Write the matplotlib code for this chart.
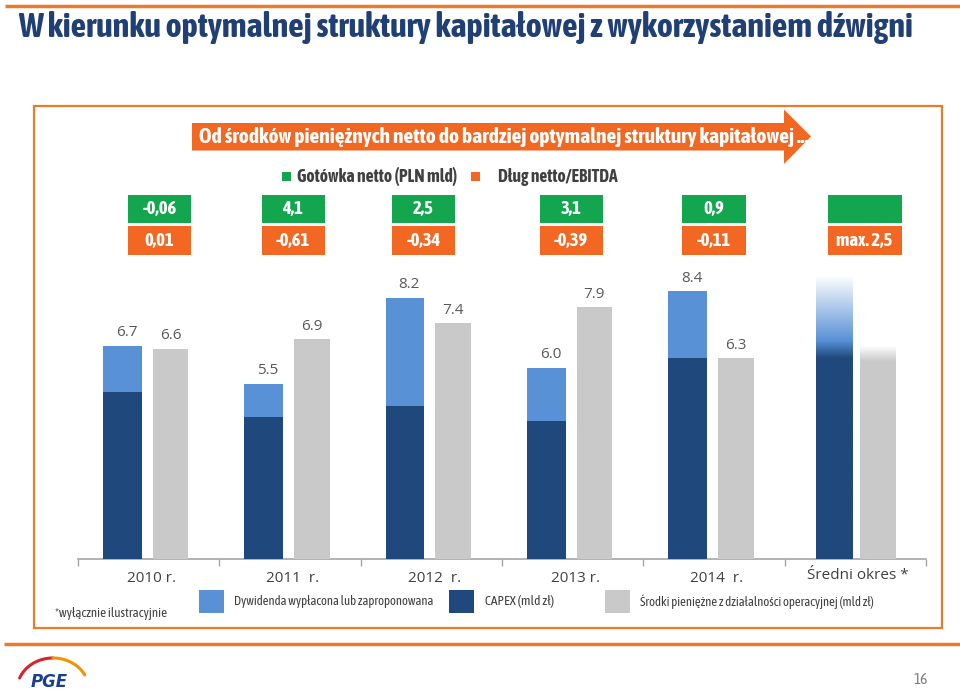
import numpy as np
import matplotlib

matplotlib.use("Agg")
import matplotlib.pyplot as plt
from matplotlib.patches import Rectangle, Polygon

# --- data -------------------------------------------------------------
categories = ["2010 r.", "2011  r.", "2012  r.", "2013 r.", "2014  r.", "Średni okres *"]
capex = [5.25, 4.45, 4.8, 4.35, 6.3]          # CAPEX (mld zł)
total_capex_div = [6.7, 5.5, 8.2, 6.0, 8.4]    # CAPEX + dywidenda
cash_ops = [6.6, 6.9, 7.4, 7.9, 6.3]           # środki pieniężne z działalności operacyjnej
mid_capex = 6.3                                # średni okres (ilustracyjnie)
mid_div_top = 8.9
mid_cash = 6.2

cash_net = ["-0,06", "4,1", "2,5", "3,1", "0,9", ""]
debt_ebitda = ["0,01", "-0,61", "-0,34", "-0,39", "-0,11", "max. 2,5"]

# --- style ------------------------------------------------------------
W, H = 960, 690
DARK = "#1f487c"
LIGHT = "#5891d6"
GREY = "#c9c9c9"
GREEN = "#13a64f"
ORANGE = "#f26722"
LINE_OR = "#e97b2c"
TITLE_C = "#1f3f75"
TXT = "#404040"
NARROW = ["Asap Condensed", "Archivo Narrow", "Roboto", "DejaVu Sans"]
REG = ["Open Sans", "DejaVu Sans"]

fig = plt.figure(figsize=(W / 100, H / 100), dpi=100)
fig.patch.set_facecolor("white")
renderer = fig.canvas.get_renderer()

# overlay in pixel coordinates for the slide furniture
ov = fig.add_axes([0, 0, 1, 1])
ov.set_xlim(0, W)
ov.set_ylim(H, 0)
ov.axis("off")


def rect(x0, y0, x1, y1, **kw):
    ov.add_patch(Rectangle((x0, y0), x1 - x0, y1 - y0, **kw))


def fit(txt, width_px):
    # shrink/grow the font so the text spans the same width as in the slide
    bb = txt.get_window_extent(renderer)
    txt.set_fontsize(txt.get_fontsize() * width_px / bb.width)
    return txt


# top line + title
ov.plot([5, W], [6, 6], color=LINE_OR, lw=2.5, solid_capstyle="butt")
fit(ov.text(18, 28, "W kierunku optymalnej struktury kapitałowej z wykorzystaniem dźwigni",
            family=NARROW, weight="bold", fontsize=20, color=TITLE_C, va="center"), 892)

# frame
rect(33.5, 106, 942, 628, fill=False, edgecolor=LINE_OR, lw=1.6)
# bottom line
ov.plot([4, W], [643.5, 643.5], color=LINE_OR, lw=2.5, solid_capstyle="butt")

# arrow banner
ov.add_patch(Polygon([(192, 123), (784, 123), (784, 109.5), (811, 136.5),
                      (784, 164), (784, 150.5), (192, 150.5)],
                     closed=True, facecolor=ORANGE, edgecolor="none"))
fit(ov.text(199, 137, "Od środków pieniężnych netto do bardziej optymalnej struktury kapitałowej ...",
            family=NARROW, weight="bold", fontsize=12, color="white", va="center"), 605)

# small legend for the boxes
rect(282, 172, 291, 181, facecolor=GREEN, edgecolor="none")
fit(ov.text(297, 177, "Gotówka netto (PLN mld)", family=NARROW, weight="bold",
            fontsize=10.5, color=TXT, va="center"), 161)
rect(471, 172, 480, 181, facecolor=ORANGE, edgecolor="none")
fit(ov.text(498, 177, "Dług netto/EBITDA", family=NARROW, weight="bold",
            fontsize=10.5, color=TXT, va="center"), 121)

# value boxes
box_cx = [159.5, 293, 423.5, 571, 713.5, 864.5]
box_w = [63, 63, 63, 63, 64, 74]
probe = ov.text(0, 0, "max. 2,5", family=NARROW, weight="bold", fontsize=10)
box_fs = 10 * 56 / probe.get_window_extent(renderer).width
probe.remove()
for cx, bw, g, o in zip(box_cx, box_w, cash_net, debt_ebitda):
    rect(cx - bw / 2, 195, cx + bw / 2, 222.5, facecolor=GREEN, edgecolor="none")
    rect(cx - bw / 2, 226, cx + bw / 2, 254.5, facecolor=ORANGE, edgecolor="none")
    ov.text(cx, 209, g, family=NARROW, weight="bold", fontsize=box_fs, color="white",
            ha="center", va="center")
    ov.text(cx, 241, o, family=NARROW, weight="bold", fontsize=box_fs, color="white",
            ha="center", va="center")

# bottom legend
rect(199, 590, 223.5, 613, facecolor=LIGHT, edgecolor="none")
fit(ov.text(234, 601.5, "Dywidenda wypłacona lub zaproponowana", family=NARROW,
            fontsize=9.5, color=TXT, va="center"), 203)
rect(449, 590, 473.5, 613, facecolor=DARK, edgecolor="none")
fit(ov.text(485, 601.5, "CAPEX (mld zł)", family=NARROW, fontsize=9.5, color=TXT,
            va="center"), 70)
rect(605, 590, 629.5, 613, facecolor=GREY, edgecolor="none")
fit(ov.text(640, 601.5, "Środki pieniężne z działalności operacyjnej (mld zł)",
            family=NARROW, fontsize=9.5, color=TXT, va="center"), 240)
fit(ov.text(55, 613, "*wyłącznie ilustracyjnie", family=NARROW, fontsize=8.8,
            color=TXT, va="center"), 113)

# page number
ov.text(921, 680, "16", family=NARROW, fontsize=11, color="#7f7f7f", ha="center", va="center")

# PGE logo
t = np.linspace(np.radians(158), np.radians(90), 40)
ov.plot(53 + 36 * np.cos(t), 690 - 32 * np.sin(t), color="#d8232a", lw=2.2,
        solid_capstyle="round")
t = np.linspace(np.radians(90), np.radians(28), 40)
ov.plot(53 + 36 * np.cos(t), 690 - 32 * np.sin(t), color="#f39200", lw=2.2,
        solid_capstyle="round")
ov.text(49, 682, "PGE", family=["DejaVu Sans"], weight="bold", style="italic",
        fontsize=12, color="#1b3f8f", ha="center", va="center")

# --- bar chart ----------------------------------------------------------
px_per_unit = 31.9
base_y, top_y = 559.3, 265
ax = fig.add_axes([78 / W, 1 - base_y / H, 848 / W, (base_y - top_y) / H])
ax.patch.set_alpha(0)
for s in ["top", "right", "left"]:
    ax.spines[s].set_visible(False)
ax.spines["bottom"].set_color("#a6a6a6")
ax.spines["bottom"].set_linewidth(1.2)
ax.set_yticks([])
ax.set_xticks(np.arange(-0.5, 6.0, 1.0))
ax.set_xticklabels([])
ax.tick_params(axis="x", direction="out", length=5, color="#a6a6a6", width=1)

n = len(capex)
xs = np.arange(n)
bo, bw = -0.186, 0.273
go, gw = 0.154, 0.252
div = [t_ - c for t_, c in zip(total_capex_div, capex)]
ax.bar(xs + bo, capex, bw, color=DARK, zorder=3)
ax.bar(xs + bo, div, bw, bottom=capex, color=LIGHT, zorder=3)
ax.bar(xs + go, cash_ops, gw, color=GREY, zorder=3)

lbl_off = 13 / px_per_unit
for i in range(n):
    ax.text(i + bo + 0.03, total_capex_div[i] + lbl_off, f"{total_capex_div[i]:.1f}",
            family=REG, fontsize=11, color="#595959", ha="center", va="center")
    ax.text(i + go, cash_ops[i] + lbl_off, f"{cash_ops[i]:.1f}",
            family=REG, fontsize=11, color="#595959", ha="center", va="center")


def hex_rgb(h):
    return np.array(matplotlib.colors.to_rgb(h))


# gradient bars for the "średni okres" group
ys = np.linspace(0, mid_div_top, 400)
dark, light, white, grey = map(hex_rgb, [DARK, LIGHT, "#ffffff", GREY])
col = np.zeros((len(ys), 3))
trans_top = mid_capex + 0.55
for k, yv in enumerate(ys):
    if yv <= mid_capex:
        col[k] = dark
    elif yv <= trans_top:
        f = (yv - mid_capex) / (trans_top - mid_capex)
        col[k] = dark * (1 - f) + light * f
    else:
        f = (yv - trans_top) / (mid_div_top - trans_top)
        col[k] = light * (1 - f) + white * f
xm = 5 - 0.151
ax.imshow(col[:, None, :], extent=[xm - 0.255 / 2, xm + 0.255 / 2, 0, mid_div_top],
          origin="lower", aspect="auto", zorder=3, interpolation="bilinear")

g_top = mid_cash + 0.5
ys2 = np.linspace(0, g_top, 200)
col2 = np.zeros((len(ys2), 3))
for k, yv in enumerate(ys2):
    if yv <= mid_cash:
        col2[k] = grey
    else:
        f = (yv - mid_cash) / (g_top - mid_cash)
        col2[k] = grey * (1 - f) + white * f
xg = 5 + 0.158
ax.imshow(col2[:, None, :], extent=[xg - 0.252 / 2, xg + 0.252 / 2, 0, g_top],
          origin="lower", aspect="auto", zorder=3, interpolation="bilinear")
ax.set_xlim(-0.5, 5.5)
ax.set_ylim(0, (base_y - top_y) / px_per_unit)

# category labels
for i, c in enumerate(categories):
    dy = -16 if i == 5 else -19
    ax.annotate(c, (i + 0.02, 0), xytext=(0, dy * 0.72), textcoords="offset points",
                family=REG, fontsize=11, color=TXT, ha="center", va="center",
                annotation_clip=False)

fig.savefig("out.png", dpi=100, facecolor="white")
